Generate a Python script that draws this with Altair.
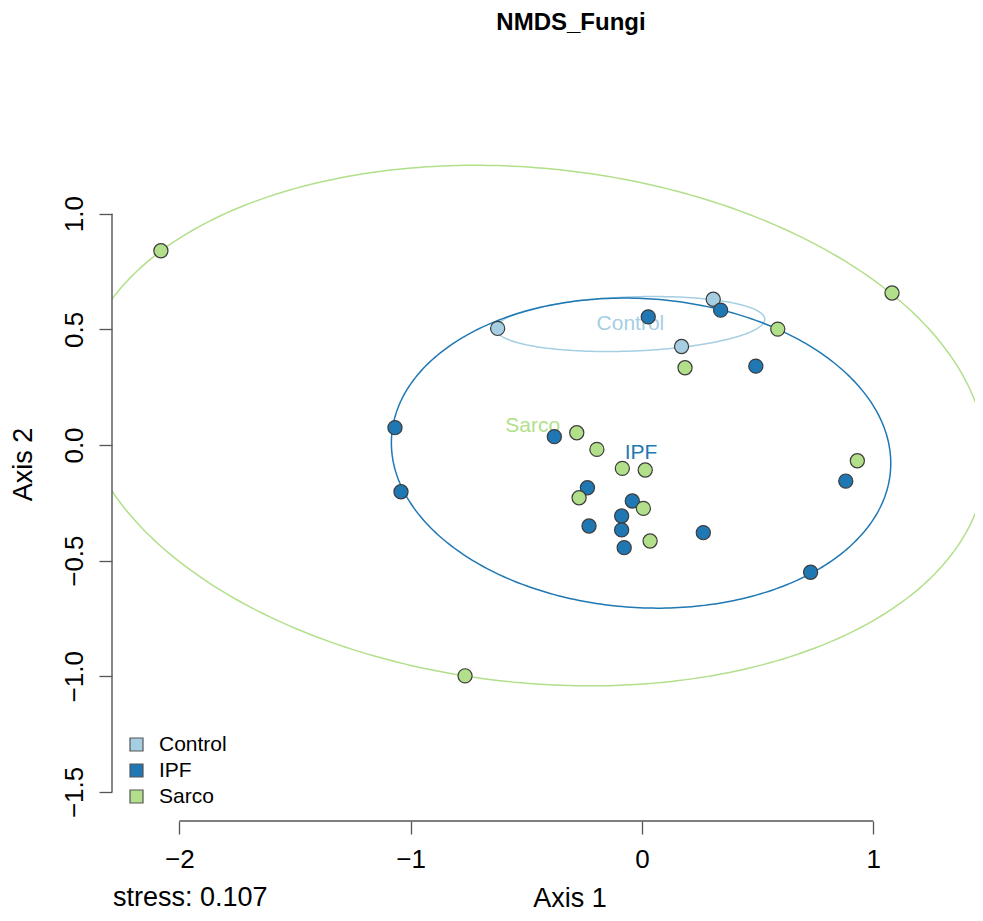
import altair as alt
import numpy as np
import pandas as pd

# ---------------- data ----------------
groups = ["Control", "IPF", "Sarco"]
group_colors = ["#A6CEE3", "#1F78B4", "#B2DF8A"]

control_x = [-0.624, 0.308, 0.171]
control_y = [0.504, 0.630, 0.426]

ipf_x = [0.340, 0.027, 0.492, -1.068, -1.042, -0.379, -0.236, -0.042,
         -0.088, -0.229, -0.088, -0.077, 0.265, 0.881, 0.729]
ipf_y = [0.583, 0.554, 0.341, 0.075, -0.202, 0.036, -0.185, -0.242,
         -0.307, -0.350, -0.367, -0.444, -0.379, -0.156, -0.550]

sarco_x = [-2.080, 1.081, 0.587, 0.186, -0.282, -0.195, -0.085, 0.014,
           -0.272, 0.006, 0.035, 0.931, 1.478, -0.765]
sarco_y = [0.840, 0.657, 0.501, 0.334, 0.053, -0.019, -0.101, -0.108,
           -0.228, -0.274, -0.415, -0.068, -0.069, -0.998]

# group ellipses (centre, semi-axes, rotation in degrees)
ell_cx = [-0.050, -0.004, -0.4725]
ell_cy = [0.523, -0.035, 0.084]
ell_a = [0.581, 1.081, 1.967]
ell_b = [0.117, 0.668, 1.112]
ell_angle = [2.1, -3.8, -6.1]

x_ticks = [-2, -1, 0, 1]
y_ticks = [-1.5, -1.0, -0.5, 0.0, 0.5, 1.0]

title_text = "NMDS_Fungi"
stress_text = "stress: 0.107"

# ---------------- tables ----------------
pts = pd.concat([
    pd.DataFrame({"group": "Control", "x": control_x, "y": control_y}),
    pd.DataFrame({"group": "IPF", "x": ipf_x, "y": ipf_y}),
    pd.DataFrame({"group": "Sarco", "x": sarco_x, "y": sarco_y}),
], ignore_index=True)

rows = []
t = np.linspace(0, 2 * np.pi, 361)
for g, col, cx, cy, a, b, ang in zip(groups, group_colors, ell_cx, ell_cy, ell_a, ell_b, ell_angle):
    th = np.deg2rad(ang)
    ex = cx + a * np.cos(t) * np.cos(th) - b * np.sin(t) * np.sin(th)
    ey = cy + a * np.cos(t) * np.sin(th) + b * np.sin(t) * np.cos(th)
    for i, (xx, yy) in enumerate(zip(ex, ey)):
        rows.append({"group": g, "color": col, "i": i, "x": xx, "y": yy})
ell = pd.DataFrame(rows)

labels = pd.DataFrame({"group": groups, "color": group_colors, "x": ell_cx, "y": ell_cy})

FONT = "Liberation Sans"
W, H = 863, 721
XDOM = [-2.2914, 1.4397]
YDOM = [-1.6256, 1.4916]
xs = alt.Scale(domain=XDOM, nice=False, zero=False)
ys = alt.Scale(domain=YDOM, nice=False, zero=False)
AXC = "#555555"
BOTTOM_TEXT_Y = 85

xaxis = alt.Axis(
    values=x_ticks, domain=False, grid=False, tickSize=13, tickColor=AXC,
    tickWidth=1.3, labelFontSize=26, labelFont=FONT, labelColor="black",
    labelPadding=12, labelFlush=False, format="d",
    title="Axis 1", titleFont=FONT, titleFontSize=27, titleFontWeight="normal",
    titleColor="black", titleX=457.5, titleY=BOTTOM_TEXT_Y, titleAlign="center",
    titleBaseline="alphabetic")
yaxis = alt.Axis(
    values=y_ticks, domain=False, grid=False, tickSize=13, tickColor=AXC,
    tickWidth=1.3, labelFontSize=26, labelFont=FONT, labelColor="black",
    labelPadding=17, labelAngle=270, labelAlign="center",
    labelBaseline="alphabetic", labelFlush=False, format=".1f",
    title="Axis 2", titleFont=FONT, titleFontSize=27, titleFontWeight="normal",
    titleColor="black", titleX=-81, titleY=364, titleAngle=270,
    titleAlign="center", titleBaseline="alphabetic")

ellipses = alt.Chart(ell).mark_line(clip=True, strokeWidth=1.5).encode(
    x=alt.X("x:Q", scale=xs, axis=xaxis),
    y=alt.Y("y:Q", scale=ys, axis=yaxis),
    detail="group:N",
    order="i:Q",
    stroke=alt.Stroke("color:N", scale=None),
)

group_labels = alt.Chart(labels).mark_text(
    fontSize=21, font=FONT, align="center", baseline="middle"
).encode(
    x=alt.X("x:Q", scale=xs, axis=xaxis),
    y=alt.Y("y:Q", scale=ys, axis=yaxis),
    text="group:N",
    color=alt.Color("color:N", scale=None),
)

points = alt.Chart(pts).mark_point(
    filled=True, shape="circle", size=200, stroke="#3c3c3c", strokeWidth=1.2,
    opacity=1, clip=True
).encode(
    x=alt.X("x:Q", scale=xs, axis=xaxis),
    y=alt.Y("y:Q", scale=ys, axis=yaxis),
    fill=alt.Fill("group:N", scale=alt.Scale(domain=groups, range=group_colors),
                  legend=alt.Legend(
                      orient="bottom-left", title=None, symbolType="square",
                      symbolSize=169, symbolStrokeColor="#555555",
                      symbolStrokeWidth=1.2, labelFontSize=21, labelFont=FONT,
                      labelColor="black", labelOffset=12, rowPadding=4,
                      padding=0, offset=14)),
)

x_axis_line = alt.Chart(pd.DataFrame({"x": [x_ticks[0]], "b": [x_ticks[-1]]})).mark_rule(
    color=AXC, strokeWidth=1.4
).encode(
    x=alt.X("x:Q", scale=xs, axis=xaxis), x2="b:Q", y=alt.value(H)
)

y_axis_line = alt.Chart(pd.DataFrame({"y": [y_ticks[0]], "b": [y_ticks[-1]]})).mark_rule(
    color=AXC, strokeWidth=1.4
).encode(
    y=alt.Y("y:Q", scale=ys, axis=yaxis), y2="b:Q", x=alt.value(0)
)

notes = pd.DataFrame({"txt": [title_text, stress_text]})
title_mark = alt.Chart(notes).transform_filter(alt.datum.txt == title_text).mark_text(
    fontSize=24, fontWeight="bold", font=FONT, align="center", baseline="alphabetic",
    color="black"
).encode(text="txt:N", x=alt.value(459), y=alt.value(-70))

stress_mark = alt.Chart(notes).transform_filter(alt.datum.txt == stress_text).mark_text(
    fontSize=27, font=FONT, align="left", baseline="alphabetic", color="black"
).encode(text="txt:N", x=alt.value(1), y=alt.value(H + BOTTOM_TEXT_Y))

chart = alt.layer(
    ellipses, group_labels, x_axis_line, y_axis_line, points, title_mark, stress_mark
).properties(
    width=W, height=H,
    padding={"left": 104, "top": 92, "right": 0, "bottom": 92},
    autosize=alt.AutoSizeParams(type="none"),
).configure_view(stroke=None)

chart.save("out.html", embed_options={"renderer": "svg", "actions": False})
